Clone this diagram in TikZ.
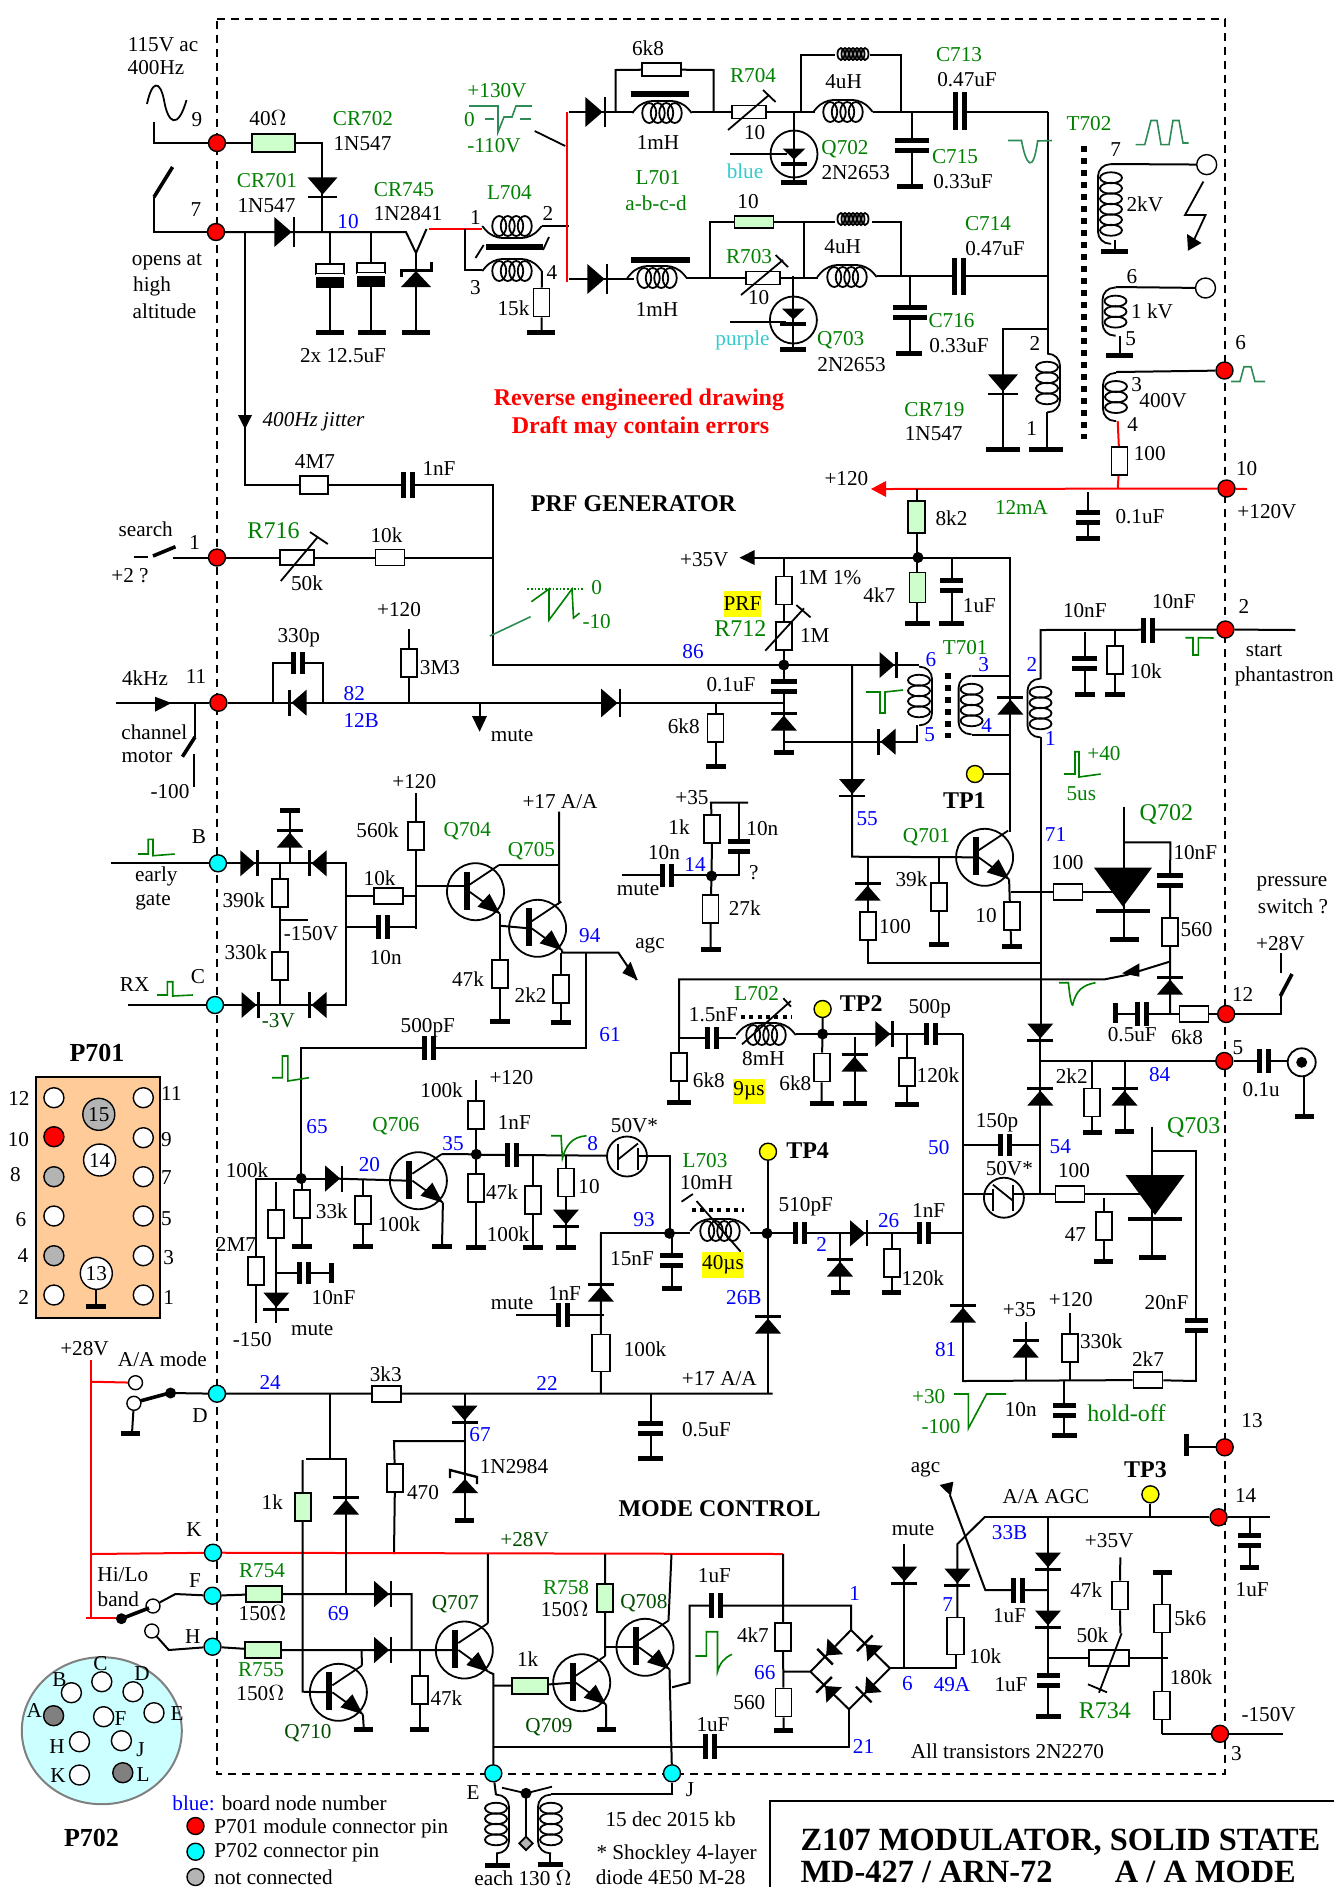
\documentclass[tikz,border=0pt]{standalone}
\usepackage{fontspec}
\setmainfont{Liberation Serif}
\usepackage{tikz}
\usetikzlibrary{calc}
\usetikzlibrary{shapes}
\definecolor{grlab}{HTML}{008000}
\definecolor{dkgr}{HTML}{004D00}
\definecolor{wavegr}{HTML}{2E8B57}
\definecolor{labblue}{HTML}{0000FF}
\definecolor{cylab}{HTML}{33CCCC}
\definecolor{resgreen}{HTML}{CCFFCC}
\definecolor{boxorange}{HTML}{FFCC99}
\definecolor{boxcyan}{HTML}{CCFFFF}
\definecolor{pingray}{HTML}{B4B4B4}
\definecolor{pincyan}{HTML}{00FFFF}
\definecolor{pinred}{HTML}{FF0000}
\definecolor{pinyel}{HTML}{FFFF00}
\pgfdeclarelayer{wires}
\pgfsetlayers{wires,main}
\tikzset{
  labl/.style={inner sep=0pt,font=\fontsize{10.6}{12}\selectfont},
  big/.style={font=\fontsize{12}{14}\selectfont},
  hd/.style={font=\fontsize{12}{14}\selectfont\bfseries},
  wirest/.style={line width=1pt},
  redst/.style={line width=1pt,draw=pinred},
  part/.style={line width=0.9pt},
  swarm/.style={line width=1.8pt},
  wave/.style={line width=0.8pt,draw=grlab},
  wavet/.style={line width=0.8pt,draw=wavegr},
  frame/.style={line width=0.8pt,dash pattern=on 4pt off 3pt},
  coredots/.style={line width=3pt,dash pattern=on 3pt off 3pt},
  smdots/.style={line width=2pt,dash pattern=on 2pt off 2.2pt},
  pinnd/.style={circle,draw,line width=0.7pt,inner sep=0pt,minimum size=8.5pt},
  trans/.style={circle,draw,line width=0.9pt,inner sep=0pt,minimum size=28.5pt},
  shk/.style={circle,draw,line width=0.9pt,inner sep=0pt,minimum size=20pt},
  hresst/.style={rectangle,draw,line width=0.9pt,fill=white,inner sep=0pt,minimum width=14.5pt,minimum height=8pt},
  vresst/.style={rectangle,draw,line width=0.9pt,fill=white,inner sep=0pt,minimum width=8pt,minimum height=14pt},
  gr/.style={fill=resgreen},
}
\newcounter{lablno}
\newcommand{\lablnode}[4][]{\stepcounter{lablno}\node[labl,#1] (T\thelablno) at (#2,#3) {#4};}
\newcommand{\grn}[3]{\lablnode[text=grlab]{#1}{#2}{#3}}
\newcommand{\blu}[3]{\lablnode[text=labblue]{#1}{#2}{#3}}
\newcommand{\wire}[1]{\begin{pgfonlayer}{wires}\draw[wirest] #1;\end{pgfonlayer}}
\newcommand{\rwire}[1]{\begin{pgfonlayer}{wires}\draw[redst] #1;\end{pgfonlayer}}
\newcommand{\pinnode}[4]{\node[pinnd,fill=#4] (#1) at (#2,#3) {};}
\newcommand{\hres}[4][]{\node[hresst,#1] (#2) at (#3,#4) {};}
\newcommand{\vres}[4][]{\node[vresst,#1] (#2) at (#3,#4) {};}
\newcommand{\gnd}[3][24]{\fill (#2-#1/2,#3-2.5) rectangle (#2+#1/2,#3+2.5);}
\newcommand{\jn}[2]{\fill (#1,#2) circle (5.5);}
\newcommand{\hcap}[3][24]{\fill[white] (#2-2,#3-#1/2) rectangle (#2+2,#3+#1/2);
  \fill (#2-7,#3-#1/2) rectangle (#2-2,#3+#1/2); \fill (#2+2,#3-#1/2) rectangle (#2+7,#3+#1/2);}
\newcommand{\vcap}[3][24]{\fill[white] (#2-#1/2,#3-2.5) rectangle (#2+#1/2,#3+2.5);
  \fill (#2-#1/2,#3-7.5) rectangle (#2+#1/2,#3-2.5); \fill (#2-#1/2,#3+2.5) rectangle (#2+#1/2,#3+7.5);}
\newcommand{\ecap}[2]{\draw[part,fill=white] (#1-14,#2) rectangle (#1+14,#2+10);
  \fill[white] (#1-14,#2+10) rectangle (#1+14,#2+13); \fill (#1-14,#2+13) rectangle (#1+14,#2+24);}
\newcommand{\diode}[4][1]{\begin{scope}[shift={(#2,#3)},rotate=#4,scale=#1]
  \fill (-7.5,-13) -- (7.5,0) -- (-7.5,13) -- cycle;
  \draw[line width=1.2pt] (9.5,-13) -- (9.5,13);
  \end{scope}}
\newcommand{\npn}[3]{\node[trans] (#1) at (#2,#3) {};
  \coordinate (#1b) at (#2-9,#3);
  \coordinate (#1c) at (#2+23.5,#3-26.7);
  \coordinate (#1e) at (#2+24.5,#3+22);
  \fill (#2-12,#3-20) rectangle (#2-6,#3+18);
  \draw[part] (#2-6,#3-7) -- (#1c);
  \draw[part] (#2-6,#3) -- (#1e);
  \fill (#1e) -- (#2+2,#3+15) -- (#2+14,#3+2) -- cycle;}
\newcommand{\scr}[5]{\fill (#1-#3,#2-#4) -- (#1+#3,#2-#4) -- (#1,#2+#4) -- cycle;
  \fill (#1-#5,#2+#4+2) rectangle (#1+#5,#2+#4+6);}
\newcommand{\hcoil}[4]{\foreach \k in {1,...,#3} {\draw[part] ({#1+(\k-(#3+1)/2)*8.5},#2) ellipse (7 and 10);}
  \draw[part,rounded corners=5] ({#1-(#3-1)*4.25-17},#2) -- ({#1-(#3-1)*4.25-7},#2+#4*12) -- ({#1+(#3-1)*4.25+7},#2+#4*12) -- ({#1+(#3-1)*4.25+17},#2);}
\newcommand{\vcoil}[4]{\foreach \k in {1,...,#3} {\draw[part] (#1,{#2+(\k-(#3+1)/2)*10.5}) ellipse (11 and 5.5);}
  \draw[part,rounded corners=6] (#1,{#2-(#3-1)*5.25-13.5}) -- (#1+#4*13,{#2-(#3-1)*5.25-13.5}) -- (#1+#4*13,{#2+(#3-1)*5.25+13.5}) -- (#1,{#2+(#3-1)*5.25+13.5});}
\newcommand{\scoil}[2]{\foreach \k in {-3,...,3} {\draw[part] ({#1+\k*4},#2) ellipse (3.5 and 6);}}
\newcommand{\shock}[4]{\node[shk] (#1) at (#2,#3) {};
  \begin{scope}[shift={(#2,#3)},xscale=#4]
  \draw[part] (-11,-9) -- (-11,13);
  \draw[part] (-11,-13) -- (9,3);
  \draw[part] (9,-13) -- (9,13);
  \end{scope}}
\begin{document}
\begin{tikzpicture}[x=0.5pt,y=-0.5pt]
        \useasboundingbox (0,0) rectangle (1334,1887);
        \clip (0,0) rectangle (1334,1887);
        \begin{pgfonlayer}{wires}
        \fill[white] (0,0) rectangle (1334,1887);
        \draw[frame] (217,19) -- (1225,19) -- (1225,1774) -- (217,1774) -- cycle;
        \end{pgfonlayer}
        % input 9 and 7
        \pinnode{p9}{217}{143}{pinred}
        \pinnode{p7}{216}{232}{pinred}
        \hres[gr,minimum width=21.5pt,minimum height=8.8pt]{r40}{273.5}{143}
        \hres[minimum width=14pt,minimum height=9pt]{r4M7}{314}{485}
        \wire{(154,122) -- (154,143) -- (p9)}
        \wire{(p9) -- (r40) -- (322,143) -- (322,232)}
        \wire{(154,197) -- (154,232) -- (p7)}
        \draw[swarm] (154,197) -- (172.6,167);
        \wire{(p7) -- (406,232) -- (416,253) -- (426.5,229)}
        \wire{(245,232) -- (245,485) -- (r4M7)}
        \draw[part] (147,104) .. controls (152,80) and (160,80) .. (164,100) .. controls (168,124) and (178,130) .. (186.5,100);
        \diode[1.15]{322.5}{186}{270}
        \diode[1.15]{283}{232}{0}
        \lablnode{163}{45}{115V ac}
        \lablnode{156}{68}{400Hz}
        \lablnode{197}{120}{9}
        \lablnode{196}{210}{7}
        \lablnode{268}{118}{40$\Omega$}
        \grn{363}{119}{CR702}
        \lablnode{362.5}{144}{1N547}
        \grn{267}{181}{CR701}
        \lablnode{266.5}{206}{1N547}
        \lablnode{167}{262}{opens at}
        \lablnode{152}{286}{high}
        \lablnode{164.5}{311}{altitude}
        \blu{348}{222}{10}
        % supply caps and zener
        \wire{(330,232) -- (330,332)}
        \wire{(371,232) -- (371,332)}
        \wire{(416,253) -- (416,332)}
        \ecap{330}{264}
        \ecap{371}{263}
        \gnd[28]{330}{332}
        \gnd[28]{372}{332}
        \gnd[28]{416}{332}
        \draw[line width=1.5pt] (401,277) -- (401,270) -- (431,270) -- (431,262);
        \fill (401,287) -- (431,287) -- (416,271) -- cycle;
        \lablnode{343}{356}{2x 12.5uF}
        \grn{404}{190}{CR745}
        \lablnode{408}{214}{1N2841}
        % L704
        \rwire{(428.6,229) -- (482,229)}
        \wire{(465,229) -- (465,270) -- (482,270)}
        \hcoil{512}{226}{4}{1}
        \hcoil{512}{271}{4}{-1}
        \fill (485.7,244) rectangle (543,250);
        \draw[part] (475.5,258) -- (483.7,245);
        \draw[part] (543,250) -- (549,237);
        \vres{r15k}{541.5}{302.5}
        \wire{(542,226) -- (569,226)}
        \wire{(542,271) -- (r15k) -- (541.5,332)}
        \gnd[28]{541}{332}
        \grn{509.4}{193}{L704}
        \lablnode{475.5}{217}{1}
        \lablnode{548}{213}{2}
        \lablnode{475.5}{288}{3}
        \lablnode{552}{273}{4}
        \lablnode{513.5}{308}{15k}
        \rwire{(567.3,112) -- (567.3,282)}
        \grn{497}{91}{+130V}
        \grn{469.4}{120}{0}
        \grn{494}{146}{-110V}
        \draw[wavet] (469,106) -- (498,106) -- (498,132) -- (504,117) -- (512,117) -- (516,106) -- (532,106);
        \draw[wavet] (484.5,119) -- (494,119);
        \draw[wavet] (520.4,119) -- (530.6,119);
        \draw[part] (534.7,131) -- (565.3,146);
        % L701 upper
        \hres[minimum width=19.5pt,minimum height=6.5pt]{r6k8}{661.6}{69.5}
        \hres[minimum width=17pt,minimum height=6.5pt]{rR704}{749}{112}
        \hres[minimum width=17pt,minimum height=6.5pt]{rR703}{763}{278}
        \wire{(569,112) -- (634,112)}
        \wire{(615.5,112) -- (615.5,70) -- (r6k8) -- (713.5,70) -- (713.5,112)}
        \wire{(692,112) -- (rR704)}
        \diode[1.15]{594}{112}{0}
        \fill (630.6,91) rectangle (689,97);
        \hcoil{662}{113}{4}{-1}
        \lablnode{648}{48}{6k8}
        \lablnode{658}{142}{1mH}
        \grn{658}{178}{L701}
        \grn{656}{203}{a-b-c-d}
        % L701 lower
        \wire{(569,279) -- (634,279)}
        \diode[1.15]{596}{279}{0}
        \fill (631.4,257) rectangle (690,263);
        \hcoil{657}{278}{4}{-1}
        \wire{(686,278) -- (rR703)}
        \lablnode{657}{309}{1mH}
        \lablnode[text=pinred,hd]{639}{399.5}{Reverse engineered drawing}
        \lablnode[text=pinred,hd]{640.5}{427.5}{Draft may contain errors}
        % R704, Q702
        \draw[part] (728,130) -- (769,95);
        \draw[part] (763,90) -- (775.6,102);
        \wire{(rR704) -- (815,112)}
        \wire{(801,112) -- (801,55) -- (835,55)}
        \wire{(870,55) -- (901,55) -- (901,112)}
        \wire{(873,112) -- (1048,112)}
        \scoil{853}{54}
        \hcoil{843}{112}{4}{-1}
        \wire{(912,112) -- (912,186)}
        \wire{(794,112) -- (794,182)}
        \wire{(730,154) -- (787,154)}
        \hcap[38]{959.6}{111}
        \vcap[34]{912}{145}
        \gnd[26]{910}{186}
        \node[shk,minimum size=23.5pt] (qa) at (794,154) {};
        \scr{794}{154}{11.5}{5.5}{13}
        \gnd[26]{794}{182.5}
        \grn{753}{76}{R704}
        \lablnode{754.6}{133}{10}
        \lablnode{843.6}{82}{4uH}
        \grn{959}{55}{C713}
        \lablnode{967}{80}{0.47uF}
        \grn{955}{157}{C715}
        \lablnode{963}{182}{0.33uF}
        \grn{845}{149}{Q702}
        \lablnode{855.7}{173}{2N2653}
        \lablnode[text=cylab]{745}{171}{blue}
        % R703, Q703
        \hres[gr,minimum width=19.5pt,minimum height=6pt]{r10a}{754}{222}
        \wire{(710,278) -- (710,222) -- (r10a) -- (835,222)}
        \wire{(872,222) -- (901,222) -- (901,276)}
        \wire{(804,222) -- (804,278)}
        \scoil{853}{219}
        \draw[part] (741,295) -- (783,260);
        \draw[part] (775.6,255) -- (788,267);
        \wire{(rR703) -- (818,278)}
        \hcoil{847}{277}{4}{-1}
        \wire{(877,276) -- (1048,276)}
        \wire{(910,276) -- (910,353)}
        \wire{(793.4,275.5) -- (793.4,349.5)}
        \wire{(730,322) -- (786,322)}
        \hcap[37]{959}{276}
        \vcap[34]{910}{312}
        \gnd[26]{909}{353}
        \node[shk,minimum size=23.5pt] (qb) at (793.4,320) {};
        \scr{793.4}{314}{11.5}{5.5}{13}
        \gnd[26]{793.4}{349.5}
        \lablnode{748}{202}{10}
        \grn{749}{256.5}{R703}
        \lablnode{758.6}{298}{10}
        \lablnode{842.7}{247}{4uH}
        \grn{988}{224}{C714}
        \lablnode{995}{249}{0.47uF}
        \grn{951.5}{321}{C716}
        \lablnode{959}{346}{0.33uF}
        \grn{840.7}{340}{Q703}
        \lablnode{851.6}{365}{2N2653}
        \lablnode[text=cylab]{742.5}{340}{purple}
        % T702
        \wire{(1048,112) -- (1048,354)}
        \wire{(1003,396) -- (1003,329) -- (1048,329)}
        \wire{(1003,396) -- (1003,449)}
        \wire{(1047,412) -- (1047,449)}
        \vcoil{1047}{383}{4}{1}
        \diode[1.15]{1003}{383}{270}
        \gnd[34]{1003}{449}
        \gnd[34]{1046}{449}
        \grn{934.5}{410}{CR719}
        \lablnode{933.7}{434}{1N547}
        \lablnode{1035}{343}{2}
        \lablnode{1031.6}{428.7}{1}
        \draw[coredots] (1084,146) -- (1084,439);
        \pinnode{p6}{1224.5}{370.5}{pinred}
        \node[pinnd,fill=white,minimum size=10pt] (outa) at (1206.7,164.6) {};
        \node[pinnd,fill=white,minimum size=10pt] (outb) at (1205.5,288) {};
        \vcoil{1111}{204}{6}{-1}
        \wire{(1111,164) -- (outa)}
        \wire{(1114.5,240) -- (1114.5,251)}
        \gnd[27]{1114.5}{251}
        \vcoil{1115.5}{311.6}{3}{-1}
        \wire{(1115.5,287) -- (outb)}
        \wire{(1119.5,336) -- (1119.5,355)}
        \gnd[27]{1119.7}{355}
        \vcoil{1116}{397}{3}{-1}
        \wire{(1116,372) -- (p6)}
        \vres{r100a}{1119.5}{461}
        \rwire{(1117.7,421) -- (r100a) -- (1117.7,489)}
        \draw[part] (1203.4,181.5) -- (1185,215) -- (1205.5,215) -- (1193.5,241);
        \fill (1187,234) -- (1201.5,243) -- (1188,250.7) -- cycle;
        \draw[wavet] (1008,140.5) -- (1021.5,140.5) .. controls (1026,165) and (1033,175) .. (1037.6,141) -- (1052,140.5);
        \draw[wavet] (1135.5,144.6) -- (1144.8,144.6) -- (1151,120.5) -- (1157,120.5) -- (1161,144.6) -- (1169,144.6) -- (1173,120.5) -- (1179,120.5) -- (1183,143) -- (1188.5,143);
        \draw[wavet] (1231,381.5) -- (1240,381.5) -- (1244,366.7) -- (1251,366.7) -- (1255,381.5) -- (1265,381.5);
        \grn{1089}{124}{T702}
        \lablnode{1115.7}{150}{7}
        \lablnode{1144.8}{204}{2kV}
        \lablnode{1132}{277}{6}
        \lablnode{1152}{311.6}{1 kV}
        \lablnode{1130.6}{339}{5}
        \lablnode{1240.6}{342.6}{6}
        \lablnode{1136.7}{385}{3}
        \lablnode{1163}{401}{400V}
        \lablnode{1132.7}{425}{4}
        \lablnode{1149.7}{454}{100}
        % +120 rail
        \pinnode{p10}{1226.5}{488.5}{pinred}
        \rwire{(885,489) -- (p10)}
        \rwire{(p10) -- (1247,489)}
        \fill[pinred] (871,489) -- (886,481) -- (886,497) -- cycle;
        \vres[gr,minimum height=16pt,minimum width=8.5pt]{r8k2}{916.6}{517}
        \wire{(916.6,489) -- (r8k2) -- (916.6,557.7)}
        \wire{(1088,492) -- (1088,538)}
        \vcap{1088}{517}
        \gnd[24]{1088}{538}
        \lablnode{846.4}{479}{+120}
        \lablnode{951.5}{518}{8k2}
        \grn{1021.5}{507}{12mA}
        \lablnode{1140}{516.5}{0.1uF}
        \lablnode{1246.7}{469}{10}
        \lablnode{1267}{512}{+120V}
        \lablnode[hd]{633.5}{504}{PRF GENERATOR}
        % jitter and search
        \fill (238,415) -- (252,415) -- (245,429) -- cycle;
        \lablnode[font=\fontsize{10.6}{12}\selectfont\itshape]{313.5}{422}{400Hz jitter}
        \wire{(r4M7) -- (493,485) -- (493,665) -- (783.8,665)}
        \hcap[26]{408}{485}
        \lablnode{315}{462}{4M7}
        \lablnode{439}{468}{1nF}
        \pinnode{p1}{217}{557.5}{pinred}
        \hres[minimum width=17pt,minimum height=7.5pt]{rR716}{297}{557.5}
        \hres{r10kb}{390}{557.5}
        \wire{(172.6,557.5) -- (p1) -- (rR716) -- (r10kb) -- (493,557.5)}
        \wire{(133.5,557) -- (148,557)}
        \draw[swarm] (153,556) -- (175.5,546.7);
        \draw[part] (280.8,581) -- (318,536.7);
        \draw[part] (310,532) -- (327.8,544);
        \lablnode{145.7}{529}{search}
        \lablnode{194.7}{542.7}{1}
        \lablnode{130}{576}{+2 ?}
        \lablnode[text=grlab,big]{273.5}{530.7}{R716}
        \lablnode{307}{583}{50k}
        \lablnode{386.5}{535}{10k}
        \draw[wave,densely dotted] (527.4,589) -- (585,589);
        \draw[wave] (531.4,601.7) -- (549,589) -- (549,620) -- (572,589) -- (573.5,618) -- (579.6,613);
        \draw[wavet] (489.8,636) -- (530.6,616.7);
        \grn{596.7}{588}{0}
        \grn{596.7}{621.7}{-10}
        \blu{693}{652}{86}
        % row 11
        \pinnode{p11}{218.4}{702.7}{pinred}
        \vres{r3M3}{409}{663}
        \wire{(116,702.7) -- (p11) -- (783.8,702.7)}
        \wire{(409,629) -- (r3M3) -- (409,702.7)}
        \wire{(272.6,702.7) -- (272.6,663) -- (322.9,663) -- (322.9,702.7)}
        \wire{(195,702.7) -- (195,736.7)}
        \wire{(194.3,754) -- (194.3,787)}
        \wire{(479.6,702.7) -- (479.6,718)}
        \draw[swarm] (182.4,756.7) -- (195,737);
        \fill (155,696.7) -- (171.4,703) -- (155,711.7) -- cycle;
        \fill (472,716) -- (487,716) -- (479.6,731.7) -- cycle;
        \hcap[22]{298}{663}
        \diode[1]{299}{702.7}{180}
        \diode[1.1]{609.4}{703}{0}
        \lablnode{145}{678}{4kHz}
        \lablnode{196}{676.7}{11}
        \lablnode{154.3}{732}{channel}
        \lablnode{147}{756.7}{motor}
        \lablnode{170}{792}{-100}
        \lablnode{298.8}{638}{330p}
        \lablnode{399}{610}{+120}
        \lablnode{440}{667.7}{3M3}
        \blu{354.3}{694}{82}
        \blu{361.2}{720}{12B}
        \lablnode{512}{735.7}{mute}
        \vres{r6k8b}{715.5}{728}
        \wire{(715.5,702.7) -- (r6k8b) -- (715.5,766.7)}
        \gnd[20]{715.5}{766.7}
        \lablnode{683.7}{726.7}{6k8}
        \lablnode{731}{685}{0.1uF}
        % inputs B and C
        \pinnode{pB}{218}{863.3}{pincyan}
        \pinnode{pC}{215}{1005}{pincyan}
        \wire{(111.4,863.3) -- (pB) -- (346,863.3) -- (346,1005) -- (pC)}
        \wire{(pC) -- (127.8,1005)}
        \wire{(289.8,863.3) -- (289.8,810)}
        \vres{r390k}{279.6}{893}
        \vres{r330k}{279.6}{966}
        \wire{(279.6,863.3) -- (r390k) -- (r330k) -- (279.6,1005)}
        \wire{(280.8,920) -- (308,920)}
        \diode{247.8}{863.3}{0}
        \diode{319}{863.3}{180}
        \diode{249}{1005}{0}
        \diode{319}{1005}{180}
        \diode{289.8}{840}{90}
        \gnd[20]{289.8}{810}
        \draw[wave] (138,854) -- (148.2,854) -- (148.2,839.3) -- (153,839.3) -- (153,855.7) -- (174.7,854);
        \draw[wave] (157,995) -- (167.3,995) -- (167.3,981.7) -- (172.7,981.7) -- (172.7,996) -- (193,995);
        \lablnode{199}{837}{B}
        \lablnode{156.3}{876.7}{early}
        \lablnode{153}{902.3}{gate}
        \lablnode{243.7}{900}{390k}
        \lablnode{311}{934}{-150V}
        \lablnode{245.7}{952.7}{330k}
        \lablnode{134.7}{985}{RX}
        \lablnode{198}{976.7}{C}
        \lablnode[text=dkgr]{278.4}{1020.7}{-3V}
        % Q704 Q705
        \vres{r560k}{416.3}{836}
        \hres{r10kc}{388.6}{895.7}
        \npn{Q704}{475.5}{891.7}
        \npn{Q705}{537.6}{928.3}
        \wire{(416.3,793) -- (r560k) -- (416.3,929)}
        \wire{(346,895.7) -- (r10kc) -- (416.3,895.7)}
        \wire{(346,927.3) -- (416.3,927.3)}
        \wire{(416.3,885.7) -- (466,885.7)}
        \wire{(Q704c) -- (559,865)}
        \wire{(559,811.7) -- (559,903) -- (Q705c)}
        \wire{(Q704e) -- (500,1021.7)}
        \wire{(500,925.7) -- (Q705b)}
        \vres{r47kb}{500}{974}
        \vres{r2k2}{561}{989}
        \wire{(Q705e) -- (562,952.7) -- (618.4,952.7) -- (636.7,980)}
        \wire{(561,952.7) -- (r2k2) -- (561,1022.7)}
        \wire{(586,952.7) -- (586,1047.7) -- (301.2,1047.7) -- (301.2,1178.5)}
        \fill (622.4,973) -- (630.6,961.7) -- (637.6,980) -- cycle;
        \hcap{383}{927.3}
        \hcap{429.4}{1047.7}
        \gnd[20]{500}{1021.7}
        \gnd[20]{561}{1022.7}
        \lablnode{414.3}{782}{+120}
        \lablnode{377.6}{830.7}{560k}
        \grn{467.3}{830.7}{Q704}
        \lablnode{560}{801.7}{+17 A/A}
        \grn{531.4}{850.7}{Q705}
        \lablnode{379.6}{878.3}{10k}
        \lablnode{385.7}{957.3}{10n}
        \lablnode{468}{979}{47k}
        \blu{589.8}{936}{94}
        \lablnode{650}{945}{agc}
        \lablnode{530.6}{995}{2k2}
        \lablnode{427.8}{1027.3}{500pF}
        \blu{610}{1035}{61}
        % node 14
        \vres{r1ka}{712}{829}
        \vres{r27k}{710.5}{909}
        \wire{(748,802.7) -- (711,802.7) -- (r1ka) -- (711.6,876)}
        \wire{(711.6,876) -- (r27k) -- (710.5,949.3)}
        \wire{(738.7,802.7) -- (738.7,875) -- (621.6,875)}
        \hcap[23]{667.3}{875}
        \vcap[22]{738.7}{846.7}
        \jn{711.6}{876}
        \gnd[20]{710.5}{949.3}
        \lablnode{692}{797.7}{+35}
        \lablnode{679}{827}{1k}
        \lablnode{762.3}{828.3}{10n}
        \lablnode{753.7}{872.7}{?}
        \lablnode{664}{852.3}{10n}
        \lablnode{638}{890}{mute}
        \blu{695}{864}{14}
        \lablnode{744.7}{907.7}{27k}
        % +35V and T701
        \wire{(754,557.7) -- (1010.4,557.7) -- (1010.4,831.7)}
        \fill (739.5,557.7) -- (754.6,550) -- (754.6,565) -- cycle;
        \jn{918}{557.5}
        \vres[gr,minimum height=15pt]{r4k7}{917.4}{587.5}
        \wire{(917.4,557.7) -- (r4k7) -- (917.4,623.3)}
        \gnd[25]{917.4}{623.3}
        \wire{(951.5,557.7) -- (951.5,623.3)}
        \vcap[23]{951.5}{585}
        \gnd[25]{951.5}{623.3}
        \lablnode{704.3}{560}{+35V}
        \lablnode{879.3}{595}{4k7}
        \lablnode{979.4}{606}{1uF}
        \vres{r1M}{783.8}{590.5}
        \vres{rR712}{783.8}{636}
        \wire{(783.8,557.7) -- (r1M) -- (rR712) -- (783.8,752.7)}
        \draw[part] (765.3,650.7) -- (804,608.3);
        \draw[part] (796.3,605) -- (810.5,617.3);
        \jn{783.8}{665}
        \wire{(783.8,665) -- (919,665)}
        \wire{(609,702.7) -- (783.8,702.7)}
        \vcap[26]{783.8}{686.3}
        \diode{783.8}{723}{90}
        \gnd[20]{783.8}{752.7}
        \node[labl,fill=pinyel,minimum width=18.5pt,minimum height=13pt] (tprf) at (742.5,604) {PRF};
        \lablnode[text=grlab,big]{740.4}{629}{R712}
        \lablnode{829.8}{577.3}{1M 1\%}
        \lablnode{814.8}{635}{1M}
        \wire{(783.8,741.7) -- (917,741.7) -- (917,725)}
        \diode{887}{665}{0}
        \diode{888}{741.7}{180}
        \vcoil{919}{696}{4}{1}
        \draw[coredots] (948,673) -- (948,738);
        \vcoil{971.6}{705}{4}{-1}
        \wire{(971.6,675.7) -- (1010.4,675.7)}
        \wire{(971.6,735) -- (1010.4,735)}
        \diode{1010.4}{707}{90}
        \blu{931}{659.3}{6}
        \blu{929.6}{735}{5}
        \grn{965.2}{647.3}{T701}
        \blu{983.7}{665}{3}
        \blu{986.7}{725.7}{4}
        \draw[wave] (866,692) -- (880,692) -- (880,713) -- (885,713) -- (885,692) -- (903,690);
        \pinnode{tp1}{975}{774}{pinyel}
        \wire{(tp1) -- (1010.4,774)}
        \lablnode[hd]{964.4}{800.7}{TP1}
        % Q701
        \npn{Q701}{984.6}{857.3}
        \wire{(852.2,665) -- (852.2,856.7) -- (Q701b)}
        \wire{(Q701e) -- (1011.2,946.7)}
        \diode{852.2}{786.7}{270}
        \blu{867.2}{819}{55}
        \grn{926.5}{837.3}{Q701}
        \vres{r10b}{1012}{916}
        \gnd[20]{1012}{946.7}
        \lablnode{986}{916}{10}
        \vres{r39k}{938.6}{897}
        \wire{(938.6,856.7) -- (r39k) -- (938.6,944)}
        \gnd[20]{938.6}{944}
        \lablnode{911.5}{879.3}{39k}
        \vres{r100b}{867.6}{926}
        \wire{(867.6,856.7) -- (r100b) -- (867.6,962.7) -- (1040.5,962.7)}
        \diode{867.6}{893}{90}
        \lablnode{895}{926.7}{100}
        % output 2
        \pinnode{p2}{1225.4}{629.5}{pinred}
        \vres{r10kd}{1115}{660}
        \vcoil{1040.5}{708}{4}{-1}
        \wire{(1040.5,679) -- (1040.5,630) -- (p2) -- (1295.4,630)}
        \wire{(1040.5,737) -- (1040.5,1030)}
        \wire{(1084.8,632) -- (1084.8,694.3)}
        \wire{(1115,630) -- (r10kd) -- (1115,694)}
        \hcap[25]{1148}{630}
        \vcap[25]{1084.8}{663.3}
        \gnd[20]{1084.8}{694.3}
        \gnd[20]{1115}{694}
        \draw[wave] (1185.4,637.7) -- (1193,637.7) -- (1193,655) -- (1198.3,655) -- (1198.3,637.7) -- (1213.7,638);
        \lablnode{1173.8}{601.7}{10nF}
        \lablnode{1084.8}{610.7}{10nF}
        \lablnode{1243.8}{606}{2}
        \lablnode{1264}{650.7}{start}
        \lablnode{1284.3}{676}{phantastron}
        \lablnode{1145.8}{671.7}{10k}
        \blu{1032}{664}{2}
        \blu{1050.4}{738.3}{1}
        \draw[wave] (1064,774) -- (1075,774) -- (1075,751.7) -- (1079,751.7) -- (1079,777) -- (1100.7,774);
        \grn{1104}{753.3}{+40}
        \grn{1081.3}{794}{5us}
        \blu{1055.5}{834}{71}
        % Q702 pulse stage
        \hres{r100c}{1068}{891.7}
        \wire{(1011.2,891.7) -- (r100c) -- (1130,891.7)}
        \wire{(1124.3,806.7) -- (1124.3,939.3)}
        \scr{1123}{887.2}{29}{19.5}{27}
        \gnd[29]{1124.3}{939.3}
        \vres{r560}{1170}{932}
        \wire{(1124.3,842.3) -- (1170.3,842.3) -- (r560) -- (1170,1013.3)}
        \vcap[26]{1170.3}{880.3}
        \diode{1170}{987}{90}
        \wire{(1169.5,961.7) -- (1126.5,975) -- (1105,979.3) -- (679,979.3) -- (679,1038)}
        \fill (1139.4,963.3) -- (1139.4,976.7) -- (1122,973.3) -- cycle;
        \draw[wave] (1059,982.7) -- (1068.4,982.7) .. controls (1070,1000) and (1072,1006) .. (1072.7,1005) .. controls (1076,990) and (1083,985) .. (1095.5,982.7);
        \lablnode{1067.6}{862.7}{100}
        \lablnode[text=grlab,big]{1166.4}{814}{Q702}
        \lablnode{1195.3}{852.3}{10nF}
        \lablnode{1196.5}{930}{560}
        % input 12
        \pinnode{p12}{1226.2}{1014}{pinred}
        \hres{r6k8c}{1194}{1014}
        \wire{(1115,1014) -- (r6k8c) -- (p12) -- (1281.3,1014) -- (1281.3,996)}
        \wire{(1281.3,953) -- (1281.3,973.3)}
        \draw[swarm] (1292,974) -- (1280.4,996);
        \fill (1112.5,1003) rectangle (1117.5,1023);
        \hcap[24]{1142.4}{1014}
        \lablnode{1292}{883.3}{pressure}
        \lablnode{1293}{906.7}{switch ?}
        \lablnode{1280.4}{943.3}{+28V}
        \lablnode{1242.6}{994}{12}
        \lablnode{1132.3}{1035}{0.5uF}
        \lablnode{1187}{1037.7}{6k8}
        % L702 stage
        \vres{r6k8d}{679}{1067}
        \wire{(679,1038) -- (r6k8d) -- (679,1102.3)}
        \wire{(679,1038) -- (736,1038)}
        \hcap[22]{712}{1038}
        \gnd[24]{679}{1102.3}
        \hcoil{766}{1035}{4}{-1}
        \draw[smdots] (740.7,1017.3) -- (792,1017.3);
        \draw[part] (742,1044.3) -- (790.8,1001);
        \draw[part] (783.4,998.3) -- (791,1006.7);
        \pinnode{tp2}{822.6}{1009}{pinyel}
        \vres{r6k8e}{821.7}{1067.5}
        \vres{r120ka}{906.9}{1071.7}
        \wire{(796,1034) -- (963,1034)}
        \wire{(tp2) -- (822.6,1034) -- (r6k8e) -- (821.7,1103.3)}
        \wire{(854.5,1036.7) -- (854.5,1103.3)}
        \wire{(906.9,1034) -- (r120ka) -- (906.9,1104.3)}
        \jn{822.6}{1034}
        \diode{854.5}{1064}{90}
        \diode{882.8}{1034}{0}
        \hcap[22]{930.6}{1034}
        \gnd[24]{821.7}{1103.3}
        \gnd[24]{854.5}{1103.3}
        \gnd[24]{906.9}{1104.3}
        \grn{756.7}{994}{L702}
        \lablnode{713.4}{1015}{1.5nF}
        \lablnode{763.4}{1059}{8mH}
        \lablnode{708.8}{1080}{6k8}
        \node[labl,fill=pinyel,minimum width=15.3pt,minimum height=12.5pt] (t9us) at (749,1091) {9µs};
        \lablnode[hd]{861.2}{1003.3}{TP2}
        \lablnode{929.7}{1008.3}{500p}
        \lablnode{795.3}{1083.3}{6k8}
        \lablnode{937.9}{1075}{120k}
        % pin 5 and Q703
        \pinnode{p5}{1224.3}{1061}{pinred}
        \wire{(1040.3,1030) -- (1040.3,1194.3)}
        \wire{(1040.3,1061) -- (p5) -- (1288,1061)}
        \diode{1040.3}{1031}{270}
        \diode{1040.3}{1098}{90}
        \hcap[24]{1264.3}{1061}
        \node[shk,minimum size=14pt] (coax) at (1301.7,1062.3) {};
        \fill (1301.7,1062.3) circle (5.5);
        \wire{(1304.4,1076) -- (1304.4,1116.7)}
        \gnd[19]{1304.4}{1116.7}
        \vres{r2k2b}{1092.2}{1102.5}
        \wire{(1092.2,1061) -- (r2k2b) -- (1092.2,1132.7)}
        \gnd[19]{1092.2}{1132.7}
        \wire{(1124.5,1061) -- (1124.5,1131.7)}
        \diode{1124.5}{1098}{90}
        \gnd[19]{1124.5}{1131.7}
        \lablnode{1238}{1047.3}{5}
        \lablnode{1261.2}{1089.3}{0.1u}
        \lablnode{1071.7}{1076}{2k2}
        \blu{1159.6}{1075}{84}
        \wire{(963,1034) -- (963,1381.7)}
        \wire{(963,1145) -- (1040.3,1145)}
        \hcap[22]{1004.8}{1145}
        \shock{sb}{1003.9}{1197.7}{1}
        \hres{r100d}{1070}{1194.3}
        \wire{(963,1194.3) -- (992.5,1194.3)}
        \wire{(1012.9,1194.3) -- (r100d) -- (1140,1194.3)}
        \wire{(1152,1126.7) -- (1152,1257)}
        \wire{(1152,1150.7) -- (1196,1150.7) -- (1196,1381.7)}
        \scr{1155}{1195}{29.5}{20}{27}
        \gnd[27]{1152}{1257}
        \vres{r47}{1103.6}{1226}
        \wire{(1103.6,1198) -- (r47) -- (1103.6,1261.7)}
        \gnd[19]{1103.6}{1261.7}
        \lablnode[text=grlab,big]{1193.8}{1127.7}{Q703}
        \lablnode{997}{1122.3}{150p}
        \blu{938.8}{1147.3}{50}
        \blu{1060.3}{1146.7}{54}
        \lablnode{1009.3}{1169}{50V*}
        \lablnode{1074}{1171}{100}
        \lablnode{1075.4}{1235}{47}
        % hold-off
        \hres{r2k7}{1148}{1380}
        \vres{r330kb}{1070}{1348}
        \wire{(963,1381) -- (r2k7) -- (1196,1381)}
        \wire{(1025.7,1381) -- (1025.7,1321.7)}
        \wire{(1070,1312.7) -- (r330kb) -- (1070,1381)}
        \wire{(1064,1381) -- (1064,1435.7)}
        \diode{963}{1315}{90}
        \diode{1025.7}{1350}{90}
        \vcap[23]{1196}{1325.5}
        \vcap[23]{1064}{1410.3}
        \gnd[25]{1064}{1435.7}
        \blu{945.6}{1349.3}{81}
        \lablnode{1019.4}{1310}{+35}
        \lablnode{1070.8}{1299.3}{+120}
        \lablnode{1101.3}{1341}{330k}
        \lablnode{1148}{1359.3}{2k7}
        \lablnode{1166.5}{1302.3}{20nF}
        \lablnode{1020.7}{1410}{10n}
        \lablnode[text=grlab,big]{1126.4}{1413.3}{hold-off}
        \draw[wave] (953.8,1394) -- (968.4,1394) -- (968.4,1428.3) -- (986.6,1394) -- (1006,1394);
        \grn{928.7}{1396.7}{+30}
        \grn{941}{1426.7}{-100}
        \pinnode{p13}{1224.7}{1447.3}{pinred}
        \wire{(p13) -- (1186,1447.3)}
        \fill (1183.5,1434.3) rectangle (1188.5,1455.7);
        \lablnode{1252}{1421}{13}
        % P701
        \draw[line width=0.9pt,fill=boxorange] (36,1077.3) rectangle (160,1317.7);
        \lablnode[hd,font=\fontsize{13}{15}\selectfont\bfseries]{97}{1053.3}{P701}
        \node[pinnd,fill=white,minimum size=10pt] (a12) at (53.9,1097.7) {};
        \node[pinnd,fill=pinred,minimum size=10pt] (a10) at (53.9,1136.7) {};
        \node[pinnd,fill=pingray,minimum size=10pt] (a8) at (53.9,1176.7) {};
        \node[pinnd,fill=white,minimum size=10pt] (a6) at (53.9,1216) {};
        \node[pinnd,fill=pingray,minimum size=10pt] (a4) at (53.9,1255.7) {};
        \node[pinnd,fill=white,minimum size=10pt] (a2) at (53.9,1295) {};
        \node[pinnd,fill=white,minimum size=10pt] (a11) at (143.3,1097.7) {};
        \node[pinnd,fill=white,minimum size=10pt] (a9) at (143.3,1137.7) {};
        \node[pinnd,fill=white,minimum size=10pt] (a7) at (143.3,1176.7) {};
        \node[pinnd,fill=white,minimum size=10pt] (a5) at (143.3,1216) {};
        \node[pinnd,fill=white,minimum size=10pt] (a3) at (143.3,1255.7) {};
        \node[pinnd,fill=white,minimum size=10pt] (a1) at (143.3,1295) {};
        \node[pinnd,labl,draw,line width=0.7pt,fill=pingray,minimum size=16pt] (a15) at (98.8,1114.3) {15};
        \node[pinnd,labl,draw,line width=0.7pt,fill=white,minimum size=16pt] (a14) at (99.6,1160) {14};
        \node[pinnd,labl,draw,line width=0.7pt,fill=white,minimum size=16pt] (a13) at (96.3,1273.3) {13};
        \draw[part] (a13) -- (96.3,1306.7);
        \gnd[20]{96.3}{1306.7}
        \lablnode{19}{1098.3}{12}
        \lablnode{18.4}{1140}{10}
        \lablnode{15.5}{1175}{8}
        \lablnode{21}{1220}{6}
        \lablnode{23}{1256}{4}
        \lablnode{23.7}{1297.7}{2}
        \lablnode{171.4}{1093.3}{11}
        \lablnode{166.5}{1140}{9}
        \lablnode{166.5}{1177.7}{7}
        \lablnode{166.5}{1218.3}{5}
        \lablnode{168.6}{1257.3}{3}
        \lablnode{168.6}{1297.7}{1}
        % Q706 stage
        \npn{Q706}{418.4}{1180.7}
        \wire{(256,1323.3) -- (256,1178.5) -- (332,1178.5)}
        \wire{(332,1178.5) -- (Q706b)}
        \jn{301.2}{1178.5}
        \vres{r33k}{302}{1204}
        \vres{r100kb}{362.9}{1210}
        \wire{(302,1178.5) -- (r33k) -- (302,1246)}
        \wire{(362.9,1178.5) -- (r100kb) -- (362.9,1246.7)}
        \wire{(Q706e) -- (442,1246.7)}
        \wire{(Q706c) -- (476.3,1154.3)}
        \diode{332.7}{1178.5}{0}
        \gnd[20]{302}{1246}
        \gnd[20]{362.9}{1246.7}
        \gnd[20]{442}{1246.7}
        \draw[wave] (272.2,1077.7) -- (282.4,1077.7) -- (282.4,1056) -- (287.8,1056) -- (287.8,1081) -- (309,1077.7);
        \blu{317}{1126.7}{65}
        \grn{396}{1126}{Q706}
        \lablnode{247}{1170}{100k}
        \blu{369.4}{1165}{20}
        \lablnode{331.8}{1211.7}{33k}
        \lablnode{399}{1224}{100k}
        \vres{r100kc}{476.3}{1115}
        \vres{r47kc}{476.3}{1188}
        \wire{(476.3,1080) -- (r100kc) -- (r47kc) -- (476.3,1247.7)}
        \jn{476.3}{1154.3}
        \gnd[20]{476.3}{1247.7}
        \wire{(476.3,1154.7) -- (607,1155.7)}
        \hcap{512.2}{1155}
        \vres{r100kd}{532.7}{1200}
        \wire{(532.7,1155.7) -- (r100kd) -- (532.7,1247.7)}
        \gnd[20]{532.7}{1247.7}
        \vres{r10c}{566}{1182.5}
        \wire{(566,1155.7) -- (r10c) -- (566,1247.7)}
        \diode{566}{1217}{270}
        \gnd[20]{566}{1247.7}
        \draw[wave] (551,1135.7) -- (561,1135.7) -- (562.4,1158.3) .. controls (566,1145) and (572,1137) .. (586.5,1135.7);
        \shock{sa}{627}{1156.5}{-1}
        \wire{(638,1155.7) -- (670,1155.7) -- (670,1233.3)}
        \lablnode{441.6}{1090.7}{100k}
        \lablnode{511.4}{1077.3}{+120}
        \blu{453}{1143.3}{35}
        \lablnode{514.3}{1122.3}{1nF}
        \lablnode{502}{1191.7}{47k}
        \lablnode{508}{1234.3}{100k}
        \blu{592.7}{1143.3}{8}
        \lablnode{589}{1186.7}{10}
        \lablnode{634.5}{1126}{50V*}
        % -150 and mute
        \vres{r2M7}{256}{1271}
        \vres{r100ke}{276.3}{1224}
        \wire{(276.3,1181.7) -- (r100ke) -- (276.3,1323.3)}
        \wire{(276.3,1272.7) -- (331.8,1272.7)}
        \hcap[22]{304}{1272.7}
        \fill (329.3,1263) rectangle (334.3,1283);
        \diode{276.3}{1300}{270}
        \lablnode{236}{1244.3}{2M7}
        \lablnode{333.5}{1297.7}{10nF}
        \lablnode{312.2}{1330}{mute}
        \lablnode{252.2}{1340}{-150}
        % L703 stage
        \wire{(600.8,1393) -- (600.8,1233.3) -- (690,1233.3)}
        \jn{669.5}{1233.3}
        \wire{(671.5,1233.3) -- (671.5,1288.3)}
        \vcap[23]{671.5}{1260.8}
        \gnd[20]{671.5}{1288.3}
        \hcoil{720}{1231}{4}{-1}
        \draw[smdots] (692,1210) -- (744,1210);
        \draw[part] (696.5,1201) -- (740.7,1251.7);
        \draw[part] (681.5,1201.7) -- (692.9,1194);
        \pinnode{tp4}{768}{1151.7}{pinyel}
        \wire{(750,1233.3) -- (963,1233.3)}
        \wire{(tp4) -- (768,1393)}
        \jn{767}{1233.3}
        \hcap[22]{799.9}{1233.3}
        \diode{857.7}{1233.3}{0}
        \hcap[22]{923.7}{1233.3}
        \wire{(840,1233.3) -- (840,1292.3)}
        \diode{840}{1269}{90}
        \gnd[19]{840}{1292.3}
        \vres{r120kb}{891.9}{1263}
        \wire{(891.9,1233.3) -- (r120kb) -- (891.9,1292.3)}
        \gnd[19]{891.9}{1292.3}
        \diode{768}{1326}{90}
        \grn{705}{1161}{L703}
        \lablnode{706.5}{1182.3}{10mH}
        \blu{644}{1220}{93}
        \lablnode{632}{1259}{15nF}
        \node[labl,fill=pinyel,minimum width=21pt,minimum height=12.8pt] (t40us) at (723,1265) {40µs};
        \lablnode[hd]{807.6}{1151}{TP4}
        \lablnode{805.8}{1206.7}{510pF}
        \blu{821.7}{1244.3}{2}
        \blu{888.7}{1221}{26}
        \lablnode{928.7}{1210}{1nF}
        \lablnode{922.8}{1278.3}{120k}
        \blu{743.9}{1297.3}{26B}
        % mute to +17
        \vres[minimum height=18.5pt,minimum width=9pt]{r100kf}{601}{1353}
        \wire{(600.8,1233.3) -- (r100kf) -- (600.8,1393)}
        \wire{(516.3,1315) -- (604,1315)}
        \hcap{563.3}{1315}
        \diode{600.8}{1294}{90}
        \lablnode{564.5}{1293.3}{1nF}
        \lablnode{512}{1304}{mute}
        \lablnode{645}{1349.3}{100k}
        \lablnode{719.3}{1379}{+17 A/A}
        \wire{(650.5,1393.5) -- (650.5,1458.3)}
        \vcap[25]{650.5}{1428.3}
        \gnd[25]{650.5}{1458.3}
        \lablnode{706.5}{1430}{0.5uF}
        % mode D
        \pinnode{pD}{217}{1393.7}{pincyan}
        \hres{r3k3}{386.5}{1393.7}
        \node[pinnd,fill=white,minimum size=7pt] (swa) at (135.5,1382.7) {};
        \node[pinnd,fill=white,minimum size=7pt] (swb) at (133.9,1403.3) {};
        \rwire{(91,1360) -- (91,1617)}
        \rwire{(91,1381.7) -- (swa)}
        \wire{(170.6,1393) -- (pD) -- (r3k3) -- (772.5,1393.7)}
        \wire{(swb) -- (132,1433)}
        \draw[swarm] (140,1401) -- (170.6,1392.7);
        \fill (170.6,1393) circle (5.5);
        \gnd[19]{130.4}{1433.3}
        \lablnode{84.5}{1348.3}{+28V}
        \lablnode{162.4}{1359.3}{A/A mode}
        \lablnode{200}{1416}{D}
        \blu{270.2}{1382.3}{24}
        \lablnode{385.7}{1374}{3k3}
        \blu{547}{1383.3}{22}
        % zener 1N2984
        \vres[minimum width=8pt]{r470}{395}{1478}
        \wire{(464.6,1393.7) -- (464.6,1520)}
        \wire{(464.6,1441) -- (394,1441) -- (r470) -- (394,1554)}
        \diode{464.6}{1413}{270}
        \draw[line width=1.2pt] (450,1478) -- (450,1470) -- (477,1477) -- (477,1484);
        \fill (452,1493) -- (478,1493) -- (465,1479) -- cycle;
        \gnd[19]{464.6}{1520}
        \blu{480}{1435}{67}
        \lablnode{514}{1467}{1N2984}
        \lablnode{423}{1493}{470}
        \lablnode[hd]{719.5}{1509}{MODE CONTROL}
        % +28V rail
        \pinnode{pK}{213}{1552.7}{pincyan}
        \pinnode{pF}{212.5}{1595.7}{pincyan}
        \pinnode{pH}{212.5}{1646.7}{pincyan}
        \rwire{(91.5,1554) -- (pK) -- (783,1554)}
        \lablnode{194}{1530}{K}
        \lablnode{195}{1581}{F}
        \lablnode{192.9}{1636.7}{H}
        \lablnode[text=dkgr]{524.6}{1540}{+28V}
        \lablnode{122.8}{1574.3}{Hi/Lo}
        \lablnode{118.3}{1599.3}{band}
        \rwire{(86,1617.7) -- (120.5,1617.7)}
        \node[pinnd,fill=white,minimum size=7pt] (swc) at (153,1606) {};
        \node[pinnd,fill=white,minimum size=7pt] (swd) at (151.8,1631) {};
        \fill (121.4,1618.7) circle (5.5);
        \draw[swarm] (121.4,1618.7) -- (149,1608);
        \wire{(swc) -- (175.4,1594) -- (pF)}
        \wire{(swd) -- (168.8,1650) -- (pH)}
        % R754 R755
        \npn{Q707}{464.3}{1650}
        \hres[gr,minimum width=18pt]{rR754}{264}{1594}
        \hres[gr,minimum width=18pt]{rR755}{263}{1650}
        \wire{(pF) -- (rR754) -- (411.6,1594) -- (411.6,1650)}
        \wire{(pH) -- (rR755) -- (Q707b)}
        \diode{381.7}{1594}{0}
        \diode{381.7}{1650}{0}
        \grn{262}{1571}{R754}
        \lablnode{262.5}{1613.3}{150$\Omega$}
        \grn{261}{1670}{R755}
        \lablnode{260.3}{1693.3}{150$\Omega$}
        \blu{338.4}{1613.3}{69}
        \npn{Q710}{338.4}{1692.3}
        \vres[gr]{r1kb}{302.7}{1506.7}
        \wire{(330,1393.7) -- (330,1458.7)}
        \wire{(306,1458.7) -- (346,1458.7) -- (346,1594)}
        \wire{(302.7,1460) -- (r1kb) -- (302.7,1691.7) -- (Q710b)}
        \diode{346}{1507}{90}
        \lablnode{272.3}{1502.3}{1k}
        \wire{(Q710c) -- (361.6,1650)}
        \wire{(Q710e) -- (363.8,1729)}
        \gnd[19]{363.8}{1729}
        \lablnode[text=dkgr]{308}{1732.7}{Q710}
        \vres{r47kd}{419.6}{1690}
        \wire{(419.6,1650) -- (r47kd) -- (419.6,1729)}
        \gnd[19]{419.6}{1729}
        \lablnode{446.4}{1698.3}{47k}
        % Q707 Q709 Q708
        \pinnode{pE}{493.3}{1773.3}{pincyan}
        \pinnode{pJ}{672}{1773.3}{pincyan}
        \wire{(Q707c) -- (487.9,1554)}
        \wire{(Q707e) -- (493.3,1674) -- (pE)}
        \lablnode[text=dkgr]{455.4}{1604.3}{Q707}
        \hres[gr,minimum width=18pt]{r1kc}{530}{1685.7}
        \npn{Q709}{581.7}{1682.7}
        \wire{(493.3,1685.7) -- (r1kc) -- (Q709b)}
        \wire{(Q709e) -- (606,1729.3)}
        \gnd[19]{606}{1729.3}
        \lablnode{527.7}{1659.3}{1k}
        \lablnode[text=dkgr]{549}{1726.7}{Q709}
        \vres[gr]{rR758}{605}{1598.3}
        \wire{(605,1554) -- (rR758) -- (Q709c)}
        \grn{566}{1587.3}{R758}
        \lablnode{564.7}{1609.3}{150$\Omega$}
        \npn{Q708}{645}{1647.3}
        \wire{(605.5,1647.3) -- (Q708b)}
        \wire{(Q708c) -- (671.5,1554)}
        \wire{(Q708e) -- (pJ)}
        \lablnode[text=dkgr]{643.8}{1603.3}{Q708}
        \wire{(672,1687.3) -- (689.6,1682.7) -- (689.6,1605.7) -- (851,1605.7) -- (851,1630)}
        \hcap[25]{716}{1605.7}
        \wire{(493.3,1746.7) -- (849,1746.7) -- (849,1709.3)}
        \hcap[25]{709.5}{1746.7}
        \lablnode{714.4}{1576}{1uF}
        \lablnode{713}{1724.3}{1uF}
        \draw[wave] (695.3,1656) -- (706.4,1656) -- (706.4,1631.7) -- (717.5,1631.7) -- (717.5,1671.7) .. controls (720,1663) and (724,1658) .. (732,1654.3);
        % bridge
        \vres{r4k7b}{783}{1637}
        \vres{r560b}{783.5}{1702.5}
        \wire{(783,1554) -- (r4k7b) -- (r560b) -- (783.5,1730.7)}
        \gnd[19]{783.5}{1730.7}
        \wire{(783,1671.7) -- (810.4,1671.7) -- (851,1630) -- (890,1668.3) -- (849,1709.3) -- (810.4,1671.7)}
        \wire{(890,1668.3) -- (957.4,1668.3)}
        \diode[0.85]{830.7}{1650.9}{225}
        \diode[0.85]{870.5}{1649}{135}
        \diode[0.85]{829.7}{1690.5}{135}
        \diode[0.85]{869.5}{1688.8}{225}
        \lablnode{752.9}{1635}{4k7}
        \blu{764.8}{1672.3}{66}
        \lablnode{749.3}{1702.3}{560}
        \blu{854.7}{1593.3}{1}
        \blu{907.4}{1683.3}{6}
        \blu{952}{1685}{49A}
        \blu{947.7}{1605}{7}
        \blu{863.5}{1746.7}{21}
        \wire{(904.3,1544) -- (904.3,1668.3)}
        \diode{904.3}{1574}{270}
        \lablnode{913}{1529.3}{mute}
        \vres[minimum height=18.5pt,minimum width=8.5pt]{r10kf}{955.6}{1636}
        \wire{(984.4,1517.3) -- (957.4,1544) -- (957.4,1617)}
        \wire{(r10kf) -- (955.6,1668.3)}
        \diode{957.4}{1576}{270}
        \lablnode{985.3}{1656}{10k}
        % AGC
        \pinnode{p14}{1218.6}{1517.3}{pinred}
        \pinnode{tp3}{1150.4}{1494.3}{pinyel}
        \pinnode{p3}{1220}{1733.8}{pinred}
        \wire{(984.4,1517.3) -- (p14) -- (1270,1517.3)}
        \wire{(tp3) -- (1150.4,1517.3)}
        \wire{(949.9,1495) -- (985.3,1590) -- (1048,1590)}
        \fill (939.7,1485) -- (953.4,1481.7) -- (950.8,1496) -- cycle;
        \hcap[25]{1017.6}{1590}
        \wire{(1048,1517.3) -- (1048,1716)}
        \diode{1048}{1560}{270}
        \diode{1048}{1618}{270}
        \vcap[23]{1048}{1680.3}
        \gnd[25]{1048}{1716}
        \hres[minimum width=20pt]{r50k}{1109}{1657.7}
        \wire{(1048,1657.7) -- (r50k) -- (1168,1657.7)}
        \draw[part] (1099,1692.7) -- (1121.6,1633.3);
        \draw[part] (1088,1684.3) -- (1107,1692.3);
        \vres{r47ke}{1120}{1595.5}
        \wire{(1120.3,1557.3) -- (r47ke) -- (1120.3,1633)}
        \vres{r5k6}{1162.3}{1618.5}
        \vres{r180k}{1162.3}{1705.5}
        \wire{(1162.3,1572.3) -- (r5k6) -- (r180k) -- (1162.3,1734)}
        \wire{(1162.3,1733.8) -- (p3) -- (1283,1733.8)}
        \gnd[19]{1162.3}{1572.3}
        \wire{(1249.6,1517.3) -- (1249.6,1567.3)}
        \vcap[23]{1249.6}{1540}
        \gnd[19]{1249.6}{1567.3}
        \lablnode{925.5}{1469.3}{agc}
        \lablnode{1046}{1496.7}{A/A AGC}
        \lablnode[hd]{1145.5}{1469.3}{TP3}
        \blu{1009.6}{1532.3}{33B}
        \lablnode{1245.6}{1495}{14}
        \lablnode{1009.6}{1616}{1uF}
        \lablnode{1011}{1685}{1uF}
        \lablnode{1109.2}{1541}{+35V}
        \lablnode{1086.2}{1590}{47k}
        \lablnode{1092.4}{1635}{50k}
        \lablnode[text=grlab,big]{1104.8}{1711}{R734}
        \lablnode{1190.2}{1618.3}{5k6}
        \lablnode{1191}{1677.3}{180k}
        \lablnode{1268.6}{1715}{-150V}
        \lablnode{1236.3}{1754}{3}
        \lablnode{1252.2}{1590}{1uF}
        \lablnode{1007.4}{1751.7}{All transistors 2N2270}
        % P702
        \draw[line width=1pt,draw=gray,fill=boxcyan] (101.8,1730.7) ellipse (80 and 73.5);
        \node[pinnd,fill=gray,minimum size=10pt] (bA) at (53.6,1715.7) {};
        \node[pinnd,fill=white,minimum size=10pt] (bB) at (71.4,1692.7) {};
        \node[pinnd,fill=white,minimum size=10pt] (bC) at (101.8,1681.7) {};
        \node[pinnd,fill=white,minimum size=10pt] (bD) at (133,1691.7) {};
        \node[pinnd,fill=white,minimum size=10pt] (bE) at (154,1712.7) {};
        \node[pinnd,fill=white,minimum size=10pt] (bF) at (103.6,1716.7) {};
        \node[pinnd,fill=white,minimum size=10pt] (bH) at (79.5,1741.7) {};
        \node[pinnd,fill=white,minimum size=10pt] (bJ) at (121.4,1740.7) {};
        \node[pinnd,fill=white,minimum size=10pt] (bK) at (79.5,1775) {};
        \node[pinnd,fill=gray,minimum size=10pt] (bL) at (122.8,1772.7) {};
        \lablnode{34.4}{1710}{A}
        \lablnode{59.4}{1679.3}{B}
        \lablnode{100.4}{1663.3}{C}
        \lablnode{142}{1673.3}{D}
        \lablnode{177.2}{1713.3}{E}
        \lablnode{120.5}{1718.3}{F}
        \lablnode{57}{1746.7}{H}
        \lablnode{140.6}{1749.3}{J}
        \lablnode{58}{1776}{K}
        \lablnode{143}{1775}{L}
        \lablnode[font=\fontsize{13}{15}\selectfont\bfseries]{91.5}{1838.3}{P702}
        % legend
        \lablnode[anchor=west]{172}{1803.3}{\textcolor{labblue}{blue:} board node number}
        \node[pinnd,fill=pinred] (lega) at (195.5,1826) {};
        \node[pinnd,fill=pincyan] (legb) at (195.5,1851.7) {};
        \node[pinnd,fill=pingray] (legc) at (195.5,1877) {};
        \lablnode[anchor=west]{214}{1828.3}{P701 module connector pin}
        \lablnode[anchor=west]{214}{1852.5}{P702 connector pin}
        \lablnode[anchor=west]{214}{1877}{not connected}
        % pulse output transformer
        \vcoil{496}{1824}{4}{1}
        \vcoil{551}{1824}{4}{-1}
        \wire{(pE) -- (496,1795)}
        \wire{(pJ) -- (672,1794) -- (551,1794)}
        \wire{(497,1853) -- (497,1865.7)}
        \wire{(550.4,1853) -- (550.4,1864)}
        \gnd[25]{497}{1865.7}
        \gnd[25]{550.4}{1864}
        \draw[part] (502,1787.7) -- (526,1793.3) -- (552,1786.7);
        \fill (526,1793.3) circle (5.5);
        \draw[part] (526,1793.3) -- (526,1837);
        \draw[part,fill=pingray] (526,1836.6) -- (532.7,1843.3) -- (526,1850) -- (519.3,1843.3) -- cycle;
        \lablnode{473.2}{1792.7}{E}
        \lablnode{690}{1789.3}{J}
        \lablnode{523}{1878.5}{each 130 $\Omega$}
        \lablnode{670.6}{1819}{15 dec 2015 kb}
        \lablnode{676.6}{1854}{* Shockley 4-layer}
        \lablnode{670.6}{1877}{diode 4E50 M-28}
        % title
        \draw[line width=1pt] (1334,1800.7) -- (769.7,1800.7) -- (769.7,1887);
        \lablnode[anchor=west,font=\fontsize{16.2}{18}\selectfont\bfseries]{800.2}{1842}{Z107 MODULATOR, SOLID STATE}
        \lablnode[anchor=west,font=\fontsize{16.2}{18}\selectfont\bfseries]{800.2}{1871.5}{MD-427 / ARN-72}
        \lablnode[anchor=west,font=\fontsize{16.2}{18}\selectfont\bfseries]{1114.5}{1871.5}{A / A MODE}
\end{tikzpicture}
\end{document}
